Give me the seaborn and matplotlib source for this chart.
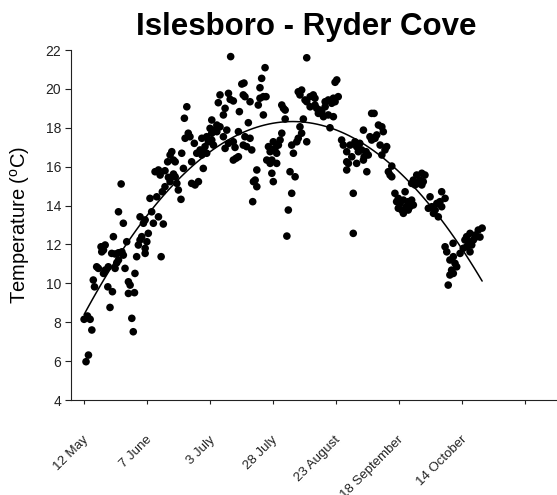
import matplotlib
matplotlib.use("Agg")
import matplotlib.pyplot as plt
from matplotlib.transforms import ScaledTranslation
import seaborn as sns
import pandas as pd

# Days elapsed since 12 May and water temperature (°C) for each reading
day_offset = [
    0.0, 1.4, 2.5, 3.2, 1.8, 0.8, 10.7, 19.7, 20.3, 3.8, 4.3, 5.2, 5.9, 8.0, 8.7,
    10.0, 9.8, 11.7, 12.8, 13.5, 16.9, 18.3, 19.0, 18.3, 20.8, 21.0, 7.0, 8.0, 8.7,
    7.3, 11.4, 12.8, 14.2, 15.6, 16.2, 14.2, 12.1, 17.6, 16.2, 14.2, 21.7, 22.4,
    23.1, 23.8, 25.2, 25.9, 26.5, 25.2, 23.1, 24.5, 25.2, 27.9, 28.6, 30.7, 32.7,
    31.8, 27.2, 30.0, 32.3, 33.4, 29.3, 30.7, 31.4, 33.4, 34.8, 35.5, 36.9, 37.6,
    38.9, 40.0, 38.3, 15.3, 34.5, 35.5, 36.2, 36.9, 37.6, 40.3, 41.0, 44.4, 44.4,
    45.8, 47.2, 41.7, 43.0, 43.7, 45.5, 46.5, 47.9, 48.6, 49.2, 49.2, 48.6, 50.6,
    51.3, 52.0, 52.7, 41.4, 42.4, 52.7,
    65.1, 56.1, 59.6, 60.3, 65.7, 55.4, 58.2, 64.1, 54.8, 56.1, 53.4, 58.9, 63.7,
    67.8, 52.7, 49.9, 50.6, 62.3, 61.6, 62.7, 63.7, 57.5, 59.6,
    60.5, 91.9, 74.7, 73.3, 72.6, 66.0, 104.3, 103.6, 66.4, 61.6, 68.5, 72.6, 74.0,
    75.1, 71.9, 57.5, 74.0, 54.8, 58.2, 53.4, 61.6, 66.4, 68.5, 69.2, 67.1, 65.7,
    81.6, 83.0, 82.3, 83.0, 88.4, 89.1, 89.8, 91.2, 91.9, 93.3, 94.6, 95.3, 93.3,
    95.3, 96.0, 97.4, 96.7, 98.1, 99.5, 98.8, 100.8, 99.5, 100.8, 102.9, 102.2,
    103.6, 104.9, 102.9, 90.5, 101.5, 89.1, 89.8, 88.4, 91.9, 81.6, 80.9, 80.2,
    78.1, 78.8, 76.1, 76.8, 79.5, 75.4, 77.5, 79.5, 76.8, 85.7, 87.8, 86.4, 85.0,
    87.1, 71.3, 70.6, 69.9, 71.3, 77.5, 78.1, 69.6, 85.7, 84.3, 83.7, 106.3, 107.0,
    108.4, 109.8, 111.8, 113.2, 110.5, 108.4, 109.1, 112.5, 108.4, 111.1, 111.1,
    118.7, 119.7, 115.3, 121.5, 122.9, 123.5, 120.8, 120.1, 118.7, 118.0, 122.2,
    124.9, 124.2, 122.9, 112.5, 113.8, 114.6, 113.2, 116.4, 117.3, 115.6, 115.3,
    116.7, 127.0, 125.6, 126.3, 127.0,
    137.3, 139.4, 140.7, 138.7, 140.0, 135.2, 136.6, 138.0, 135.9, 139.4,
    128.3, 132.5, 129.7, 129.0, 130.4, 131.8, 133.8, 135.2, 135.9, 134.5, 131.1,
    131.8, 129.7, 132.9, 133.8,
    142.8, 147.6, 149.0, 146.9, 145.6, 143.5, 142.1, 144.9, 144.2, 146.2, 147.6,
    162.7, 161.4, 159.3, 157.9, 157.2, 158.6, 160.7, 162.1, 160.0, 157.9, 156.5,
    159.3, 155.2, 152.3, 149.0, 149.7, 152.4, 151.0, 153.1, 153.8, 151.7, 152.4,
    151.0, 150.3, 164.3, 163.4,
]
temp_c = [
    8.15, 8.32, 8.15, 7.60, 6.31, 5.97, 8.76, 8.20, 7.51, 10.17, 9.82, 10.85, 10.77,
    10.51, 10.68, 10.85, 9.82, 9.57, 10.77, 11.06, 10.77, 10.08, 9.91, 9.48, 9.52,
    10.51, 11.88, 11.71, 11.97, 11.62, 11.54, 11.51, 11.57, 11.62, 11.45, 11.20,
    12.40, 12.14, 13.09, 13.68, 11.37, 11.97, 12.23, 12.40, 11.80, 12.14, 12.57,
    11.54, 13.42, 13.09, 13.26, 13.68, 13.09, 13.42, 13.05, 11.37, 14.37, 14.45,
    14.71, 14.97, 15.74, 15.83, 15.57, 15.79, 15.45, 15.23, 15.62, 15.48, 14.80,
    14.32, 15.14, 15.11, 16.25, 16.60, 16.77, 16.34, 16.25, 16.69, 15.91, 16.25,
    15.14, 15.06, 15.23, 17.46, 17.72, 17.54, 17.20, 16.69, 16.86, 16.60, 16.77,
    15.91, 17.46, 17.54, 17.28, 17.97, 17.72, 18.49, 19.08, 18.40,
    20.25, 19.69, 19.77, 19.46, 19.69, 19.29, 19.00, 18.83, 18.14, 18.05, 17.88,
    17.88, 17.80, 18.26, 17.37, 17.03, 16.69, 16.99, 17.28, 16.43, 16.51, 17.54,
    17.20,
    21.66, 21.60, 21.09, 20.54, 20.06, 20.30, 20.46, 20.34, 19.60, 19.38, 19.34,
    19.52, 19.60, 19.60, 19.17, 18.66, 18.66, 17.80, 16.94, 17.11, 16.34, 17.54,
    17.46, 16.86, 17.03, 17.11, 19.17, 18.91, 19.00, 18.45, 19.85, 19.69, 19.94,
    19.43, 19.34, 19.60, 19.69, 19.52, 19.08, 19.17, 19.00, 18.91, 18.74, 18.83,
    19.08, 18.57, 18.66, 19.34, 19.43, 19.52, 19.26, 19.34, 19.60, 18.57, 18.45,
    18.00, 18.05, 17.72, 17.46, 17.28, 17.72, 17.37, 17.11, 17.28, 16.94, 17.03,
    16.77, 16.69, 16.34, 16.34, 16.17, 16.17, 17.11, 17.28, 16.69, 15.74, 15.48,
    15.83, 15.31, 15.23, 14.97, 15.66, 15.23, 14.20, 14.63, 13.77, 12.43, 17.37,
    17.11, 16.77, 17.11, 17.28, 16.94, 16.51, 16.25, 16.17, 16.17, 15.83, 14.63,
    12.57,
    18.74, 18.74, 17.88, 18.14, 18.05, 17.80, 17.63, 17.46, 17.37, 17.54, 17.11,
    17.03, 16.86, 16.60, 17.03, 17.20, 16.86, 16.77, 16.77, 16.60, 16.51, 16.34,
    15.74, 16.03, 15.74, 15.57, 15.48,
    15.57, 15.66, 15.57, 15.31, 15.23, 15.14, 15.06, 15.14, 15.31, 15.06,
    14.63, 14.71, 14.37, 14.20, 14.11, 14.28, 14.20, 14.28, 14.03, 13.94, 13.77,
    13.60, 13.86, 13.94, 13.77,
    14.45, 14.71, 14.37, 14.20, 14.11, 13.94, 13.86, 13.77, 13.60, 13.42, 13.94,
    12.74, 12.48, 12.57, 12.40, 12.23, 12.14, 12.23, 12.40, 11.97, 11.88, 11.80,
    11.62, 11.54, 12.06, 11.88, 11.62, 11.37, 11.20, 11.03, 10.85, 10.68, 10.51,
    10.43, 9.91, 12.84, 12.38,
]

tick_days = [0, 26, 52, 78, 104, 130, 156, 182]
tick_labels = ["12 May", "7 June", "3 July", "28 July", "23 August",
               "18 September", "14 October", ""]
y_ticks = [4, 6, 8, 10, 12, 14, 16, 18, 20, 22]

sns.set_style("ticks")
plt.rcParams["font.family"] = ["Liberation Sans", "DejaVu Sans"]

df = pd.DataFrame({"day": day_offset, "temp": temp_c})

fig = plt.figure(figsize=(5.57, 4.95), dpi=100)
ax = fig.add_axes([71 / 557, 95 / 495, 486 / 557, 350 / 495])

# Scatter of readings with a second-order polynomial trend
sns.regplot(data=df, x="day", y="temp", order=2, ci=None, ax=ax,
            scatter_kws=dict(s=30, color="black", edgecolor="none", alpha=1),
            line_kws=dict(color="black", linewidth=1.1))

ax.set_xlim(-5.4, 195.2)
ax.set_ylim(4, 22)
ax.set_yticks(y_ticks)
ax.set_xticks(tick_days)
ax.set_xticklabels([])
ax.set_xlabel("")
ax.set_ylabel("")

# Slanted date labels hanging below each tick
label_shift = ax.get_xaxis_transform() + ScaledTranslation(
    5 / 100, -40 / 100, fig.dpi_scale_trans)
for d, lab in zip(tick_days, tick_labels):
    ax.text(d, 0, lab, transform=label_shift, rotation=45,
            rotation_mode="anchor", ha="right", va="baseline",
            fontsize=9.5, color="#222222", clip_on=False)

ax.tick_params(axis="x", length=3, width=0.8, colors="#222222")
ax.tick_params(axis="y", length=4, width=0.8, pad=3, labelsize=10,
               colors="#222222")
for side in ("left", "bottom"):
    ax.spines[side].set_color("#222222")
    ax.spines[side].set_linewidth(0.8)
for side in ("top", "right"):
    ax.spines[side].set_visible(False)

fig.text(306 / 557, 1 - 35 / 495, "Islesboro - Ryder Cove", ha="center",
         va="baseline", fontsize=22.5, fontweight="bold", color="black")
fig.text(20 / 557, 1 - 225 / 495, r"Temperature ($\mathregular{^o}$C)",
         rotation=90, ha="center", va="center", fontsize=14.5, color="black")

fig.savefig("out.png", dpi=100)
